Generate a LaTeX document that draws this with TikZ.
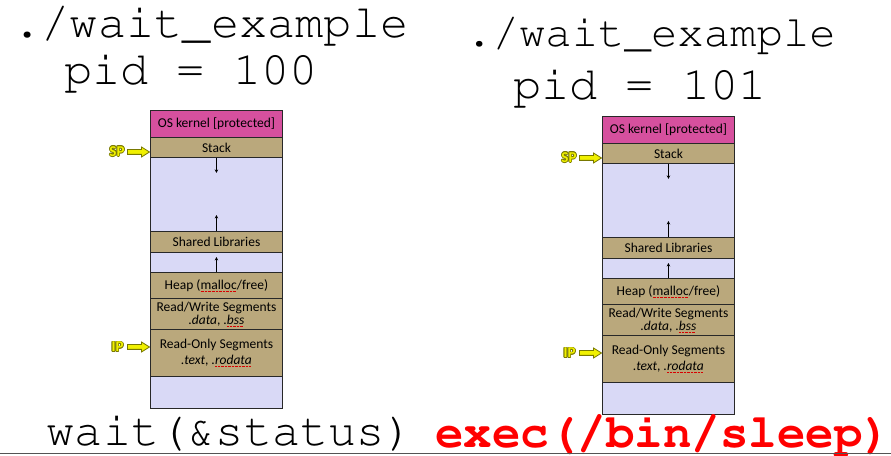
\documentclass[tikz,border=0pt]{standalone}
\usepackage[T1]{fontenc}
\usepackage{fontspec}
\setmainfont{Carlito}
\newcommand\courier{\fontencoding{T1}\fontfamily{pcr}\selectfont}
\usetikzlibrary{calc,arrows.meta}
\definecolor{kern}{RGB}{214,80,158}
\definecolor{tan}{RGB}{186,168,124}
\definecolor{lav}{RGB}{217,217,246}
\definecolor{linec}{RGB}{40,40,40}
\definecolor{ylw}{RGB}{240,240,0}
\definecolor{olv}{RGB}{120,120,0}
\newcommand\redsq[1]{\setbox0\hbox{#1}\rlap{\textcolor{red!85!black}{\leaders\hbox{\rule[-2.2pt]{0.9pt}{0.5pt}\kern0.5pt}\hskip\wd0}}\box0}
\newcommand\olcopy[2]{\rlap{\textcolor{olv}{\kern#1\raise#2\copy0}}}
\newcommand\ptrlabel[1]{\setbox0\hbox{\bfseries #1}\leavevmode
  \olcopy{-0.8bp}{0bp}\olcopy{0.8bp}{0bp}\olcopy{0bp}{0.8bp}\olcopy{0bp}{-0.8bp}%
  \olcopy{-0.6bp}{0.6bp}\olcopy{0.6bp}{0.6bp}\olcopy{-0.6bp}{-0.6bp}\olcopy{0.6bp}{-0.6bp}%
  \textcolor{ylw}{\box0}}
\tikzset{
  row/.style={draw=linec, line width=0.9bp, minimum width=132bp, inner sep=0pt,
    anchor=north west, font=\fontsize{13.5bp}{15bp}\selectfont, text=black, align=center},
  sarr/.style={line width=0.8bp, black, -{Stealth[length=3.5bp,width=3.5bp]}},
  yarrow/.style={draw=olv, fill=ylw, line width=0.8bp, line join=miter},
  ptr/.style={font=\fontsize{15bp}{15bp}\selectfont, inner sep=0pt},
  bigcode/.style={font=\courier\fontsize{47bp}{50bp}\selectfont, inner sep=0pt, anchor=base},
}
% block arrow ending at a named tip coordinate
\newcommand\blockarrow[1]{\draw[yarrow] (#1) -- ++(-8,-5) -- ++(0,2.6) -- ++(-14,0) -- ++(0,4.8) -- ++(14,0) -- ++(0,2.6) -- cycle;}
\newcommand\memstack[3]{%
  \begin{scope}[shift={(#2,#3)}]
    \node[row, fill=kern, minimum height=27bp] (#1k) at (0,0) {OS kernel [protected]};
    \node[row, fill=tan, minimum height=20bp] (#1s) at (0,27) {Stack};
    \node[row, fill=lav, minimum height=74bp] (#1b1) at (0,47) {};
    \node[row, fill=tan, minimum height=21bp] (#1sh) at (0,121) {Shared Libraries};
    \node[row, fill=lav, minimum height=20bp] (#1b2) at (0,142) {};
    \node[row, fill=tan, minimum height=26bp] (#1h) at (0,162) {Heap (\redsq{malloc}/free)};
    \node[row, fill=tan, minimum height=31bp] (#1rw) at (0,188) {Read/Write Segments\\[-2bp] \textit{.data}, \textit{.\redsq{bss}}};
    \node[row, fill=tan, minimum height=47bp] (#1ro) at (0,219) {Read-Only Segments\\[1bp] \textit{.text}, \textit{.\redsq{rodata}}};
    \node[row, fill=lav, minimum height=32bp] (#1b3) at (0,266) {};
    \draw[sarr] (#1s.south) -- ++(0,15);
    \draw[sarr] (#1sh.north) -- ++(0,-16);
    \draw[sarr] (#1h.north) -- ++(0,-15);
    \node[ptr] (#1sp) at (-33,41.5) {\ptrlabel{SP}};
    \coordinate (#1spt) at (-0.5,42);
    \blockarrow{#1spt}
    \node[ptr] (#1ip) at (-32.5,237) {\ptrlabel{IP}};
    \coordinate (#1ipt) at (-0.5,237);
    \blockarrow{#1ipt}
  \end{scope}}
\begin{document}
\begin{tikzpicture}[x=1bp,y=-1bp]
  \useasboundingbox (0,0) rectangle (891,456);
  \node[bigcode] (t1) at (211,38) {./wait\_example};
  \node[bigcode] (p1) at (191,85) {pid = 100};
  \node[bigcode, font=\courier\fontsize{44bp}{48bp}\selectfont] (t2) at (651,47) {./wait\_example};
  \node[bigcode] (p2) at (640,100) {pid = 101};
  \memstack{L}{150}{110}
  \memstack{R}{602}{116}
  \node[bigcode] (w) at (230,445) {wait(\&status)};
  \node[bigcode, font=\courier\bfseries\fontsize{47.5bp}{50bp}\selectfont, text=red] (e) at (663,447) {exec(/bin/sleep)};
  \draw[linec!80, line width=1bp] (0,453.5) -- (891,453.5);
\end{tikzpicture}
\end{document}
